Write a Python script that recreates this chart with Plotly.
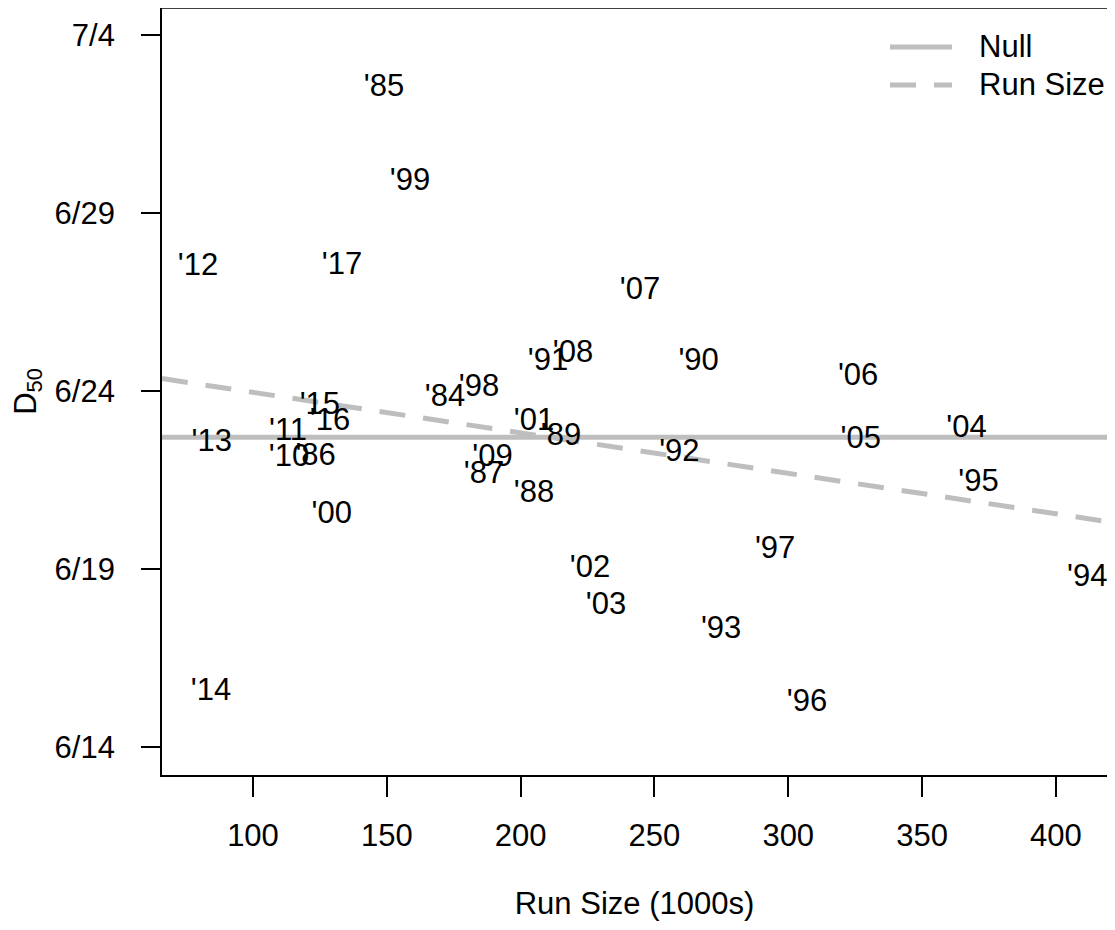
import plotly.graph_objects as go

# ---- data ----
years = ["'85", "'99", "'12", "'17", "'07", "'08", "'91", "'90", "'06", "'98",
         "'84", "'15", "'16", "'01", "'04", "'11", "'89", "'05", "'13", "'10",
         "'86", "'92", "'09", "'87", "'88", "'95", "'00", "'97", "'02", "'94",
         "'03", "'93", "'14", "'96"]
run_size = [148.95, 158.67, 79.45, 133.26, 244.62, 219.58, 210.24, 266.5, 326.1, 184.45,
            171.75, 125.0, 128.8, 205.0, 366.6, 113.1, 215.1, 327.1, 84.57, 113.45,
            123.4, 259.3, 189.5, 186.3, 205.0, 371.1, 129.4, 295.1, 225.9, 411.7,
            231.9, 274.9, 84.3, 307.0]
# D50 expressed as days after June 14
d50 = [18.50, 15.86, 13.47, 13.50, 12.80, 11.03, 10.80, 10.81, 10.39, 10.07,
       9.79, 9.56, 9.13, 9.13, 8.94, 8.84, 8.70, 8.61, 8.52, 8.10,
       8.14, 8.24, 8.10, 7.62, 7.11, 7.40, 6.50, 5.54, 4.98, 4.75,
       3.94, 3.29, 1.55, 1.24]

null_level = 8.70           # null model (mean D50)
rs_intercept = 11.10        # run-size model intercept
rs_slope = -0.011373        # run-size model slope (days per 1000 fish)

x_ticks = [100, 150, 200, 250, 300, 350, 400]
y_ticks = [0, 5, 10, 15, 20]
y_tick_labels = ["6/14", "6/19", "6/24", "6/29", "7/4"]

x_range = [66.0, 419.1]
y_range = [-0.787, 20.76]

FONT = "Liberation Sans, Arial, sans-serif"
GRAY = "#BEBEBE"
FS = 31

# page body has an 8px margin: figure origin sits at page (8, 8)
OFF = 8
W, H = 1099, 913
ML, MT, MB = 154, 0, 146
PW, PH = W - ML, H - MT - MB

fig = go.Figure()

# null model line
fig.add_trace(go.Scatter(
    x=x_range, y=[null_level, null_level], mode="lines",
    line=dict(color=GRAY, width=5), name="Null", showlegend=False,
    hoverinfo="skip"))

# run size model line
fig.add_trace(go.Scatter(
    x=x_range, y=[rs_intercept + rs_slope * v for v in x_range], mode="lines",
    line=dict(color=GRAY, width=5, dash="26px,18px"), name="Run Size",
    showlegend=False, hoverinfo="skip"))

# year labels
fig.add_trace(go.Scatter(
    x=run_size, y=d50, mode="text", text=years,
    textposition="middle center",
    textfont=dict(family=FONT, size=FS, color="black"),
    showlegend=False, cliponaxis=False))

# ---- manual legend (R style), positions given in page pixels ----
def px_x(p):
    return (p - OFF - ML) / float(PW)

def px_y(p):
    return (MT + PH - (p - OFF)) / float(PH)

legend_items = [("Null", "solid", 47), ("Run Size", "26px,18px", 85)]
for label, dash, ypix in legend_items:
    fig.add_shape(type="line", xref="paper", yref="paper",
                  x0=px_x(890), x1=px_x(952), y0=px_y(ypix), y1=px_y(ypix),
                  line=dict(color=GRAY, width=5, dash=dash))
    fig.add_annotation(xref="paper", yref="paper", x=px_x(977), y=px_y(ypix),
                       text=label, showarrow=False, xanchor="left",
                       yanchor="middle",
                       font=dict(family=FONT, size=FS, color="black"))

# top border of the box (right side is outside the picture)
fig.add_shape(type="line", xref="paper", yref="paper", x0=0, x1=1, y0=1, y1=1,
              line=dict(color="black", width=1.7))

fig.update_layout(
    width=W, height=H,
    margin=dict(l=ML, r=0, t=MT, b=MB, pad=0),
    paper_bgcolor="white", plot_bgcolor="white",
    font=dict(family=FONT, size=FS, color="black"),
    xaxis=dict(
        range=x_range, tickvals=x_ticks, ticktext=[str(v) for v in x_ticks],
        showgrid=False, zeroline=False, showline=True, linecolor="black",
        linewidth=1.7, ticks="outside", ticklen=20, tickwidth=1.7,
        tickcolor="black", ticklabelstandoff=12,
        tickfont=dict(family=FONT, size=FS),
        title=dict(text="Run Size (1000s)", standoff=46,
                   font=dict(family=FONT, size=FS)),
    ),
    yaxis=dict(
        range=y_range, tickvals=y_ticks, ticktext=y_tick_labels,
        showgrid=False, zeroline=False, showline=True, linecolor="black",
        linewidth=1.7, ticks="outside", ticklen=19, tickwidth=1.7,
        tickcolor="black", ticklabelstandoff=20,
        tickfont=dict(family=FONT, size=FS),
        title=dict(text="D<sub>50</sub>", standoff=14,
                   font=dict(family=FONT, size=FS)),
    ),
)

fig.write_html("out.html")
